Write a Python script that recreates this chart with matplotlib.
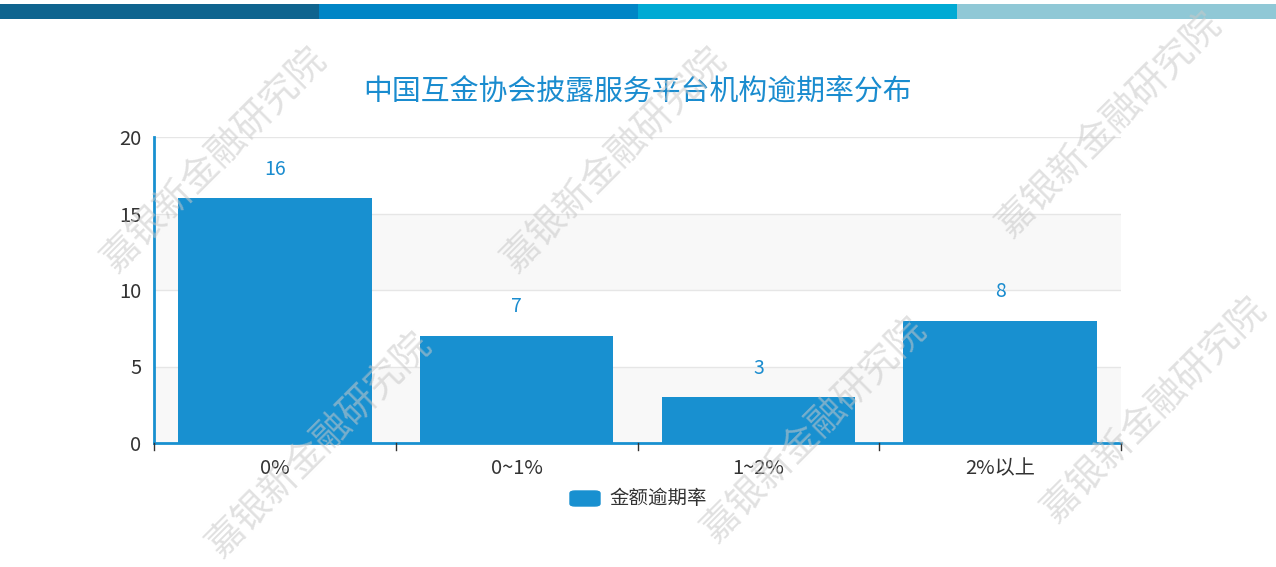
import matplotlib
matplotlib.use("Agg")
import matplotlib.pyplot as plt
from matplotlib.patches import Rectangle, FancyBboxPatch

plt.rcParams['font.family'] = ['Noto Sans CJK SC', 'DejaVu Sans']

categories = ['0%', '0~1%', '1~2%', '2%以上']
values = [16, 7, 3, 8]
title = '中国互金协会披露服务平台机构逾期率分布'
series_name = '金额逾期率'
watermark = '嘉银新金融研究院'

blue = '#1890d0'
label_blue = '#1a8ccf'

fig = plt.figure(figsize=(12.76, 5.67), dpi=100)
ax = fig.add_axes([154/1276, 1-443/567, (1121-154)/1276, (443-137)/567])

# alternating background bands
for lo, hi in [(0, 5), (10, 15)]:
    ax.axhspan(lo, hi, color='#f8f8f8', zorder=0, lw=0)
for y in [5, 10, 15, 20]:
    ax.axhline(y, color='#e6e6e6', lw=1, zorder=1)

x = list(range(len(categories)))
bars = ax.bar(x, values, width=0.8, color=blue, zorder=2)
for xi, v in zip(x, values):
    ax.text(xi, v + 1.9, str(v), ha='center', va='center', color=label_blue, fontsize=14)

ax.set_xlim(-0.5, len(categories) - 0.5)
ax.set_ylim(0, 20)
ax.set_yticks([0, 5, 10, 15, 20])
ax.set_xticks(x)
ax.set_xticklabels(categories)
ax.tick_params(axis='y', length=0, labelsize=14.5, colors='#333333', pad=9)
ax.tick_params(axis='x', length=0, labelsize=14.5, colors='#333333', pad=11)
for b in [-0.5, 0.5, 1.5, 2.5, 3.5]:
    ax.plot([b, b], [0, -0.45], color='#333333', lw=1, clip_on=False, zorder=3)

for s in ['top', 'right']:
    ax.spines[s].set_visible(False)
ax.spines['left'].set_color(blue)
ax.spines['left'].set_linewidth(2)
ax.spines['bottom'].set_color(blue)
ax.spines['bottom'].set_linewidth(2)

# title
fig.text(638/1276, 1-93/567, title, ha='center', va='center', color=label_blue, fontsize=20.8)

# legend
fig.patches.append(FancyBboxPatch((570/1276, 1-506/567), 30/1276, 15/567,
                                  boxstyle='round,pad=0,rounding_size=0.004',
                                  transform=fig.transFigure, color=blue))
fig.text(609/1276, 1-498/567, series_name, ha='left', va='center', color='#333333', fontsize=14)

# top header stripes
stripe_colors = ['#0f648f', '#0085c6', '#00aad4', '#90c8d6']
for i, c in enumerate(stripe_colors):
    fig.patches.append(Rectangle((i * 0.25, 1-19/567), 0.25, 15/567,
                                 transform=fig.transFigure, color=c, lw=0))

# watermarks
for cx, cy in [(215, 160), (615, 160), (1110, 125), (320, 445), (815, 430), (1155, 410)]:
    fig.text(cx/1276, 1-cy/567, watermark, ha='center', va='center', rotation=45,
             color='#c8c8c8', alpha=0.55, fontsize=27, zorder=10)

fig.savefig('out.png', dpi=100)
